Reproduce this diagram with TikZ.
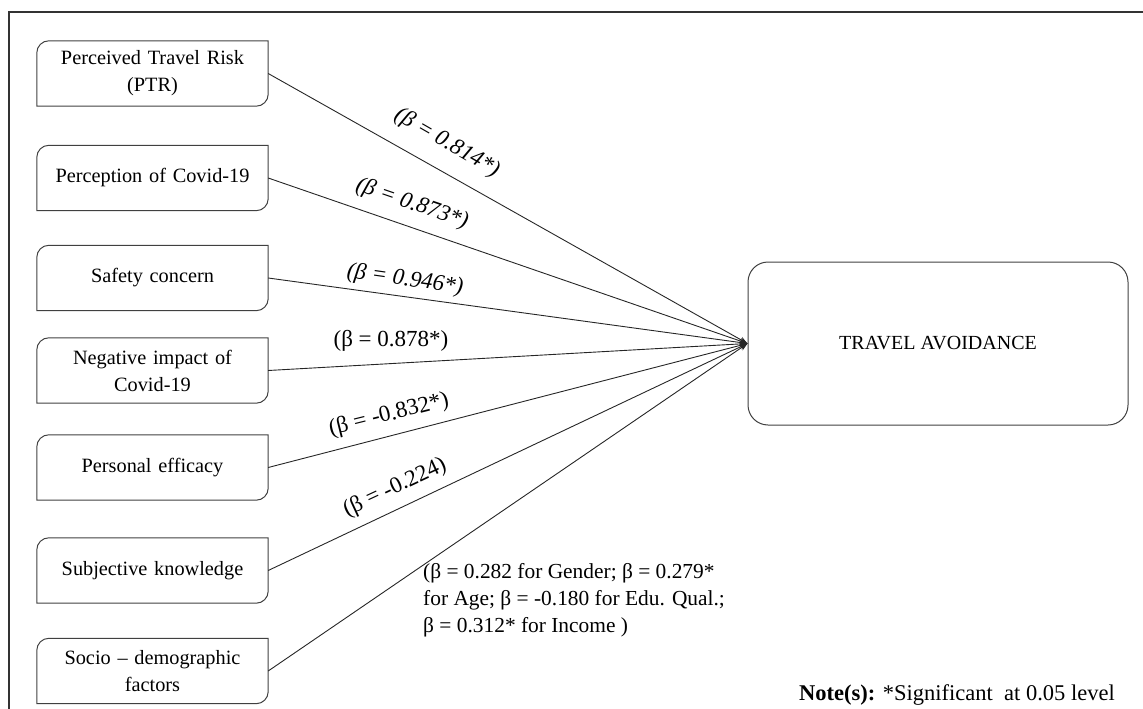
\documentclass[tikz,border=0pt]{standalone}
\usepackage{fontspec}
\setmainfont{Liberation Serif}
\usetikzlibrary{arrows.meta,calc}
\tikzset{
  src/.style={minimum width=231pt, minimum height=65pt, text width=220pt, align=center, inner sep=0pt, font=\fontsize{20.3}{27}\selectfont},
  boxline/.style={draw=black!75, line width=1pt},
  link/.style={draw=black!85, line width=0.9pt, -{Stealth[length=8pt,width=6pt]}},
  lab/.style={font=\fontsize{23}{27}\selectfont, inner sep=0pt},
}
\newcommand\dbox[1]{\draw[boxline] (#1.south west) -- ([yshift=-12pt]#1.north west) .. controls ([yshift=-5.4pt]#1.north west) and ([xshift=5.4pt]#1.north west) .. ([xshift=12pt]#1.north west) -- (#1.north east) -- ([yshift=12pt]#1.south east) .. controls ([yshift=5.4pt]#1.south east) and ([xshift=-5.4pt]#1.south east) .. ([xshift=-12pt]#1.south east) -- cycle;}
\begin{document}
\begin{tikzpicture}[x=1pt,y=-1pt]
\useasboundingbox (0,0) rectangle (1143,709);
\draw[draw=black!80, line width=1.5pt] (9,709) -- (9,12) -- (1143,12);
\node[src] (ptr) at (152.5,73.5) {Perceived Travel Risk\\(PTR)};
\node[src] (per) at (152.5,178) {Perception of Covid-19};
\node[src] (saf) at (152.5,278) {Safety concern};
\node[src] (neg) at (152.5,370.5) {Negative impact of\\Covid-19};
\node[src] (eff) at (152.5,467.5) {Personal efficacy};
\node[src] (sub) at (152.5,570.5) {Subjective knowledge};
\node[src] (soc) at (152.5,671) {Socio -- demographic\\factors};
\foreach \n in {ptr,per,saf,neg,eff,sub,soc} {\dbox{\n}}
\node[draw=black!75, line width=1pt, rounded corners=20pt, minimum width=380pt, minimum height=163pt, font=\fontsize{20}{26}\selectfont] (ta) at (938,343.5) {TRAVEL AVOIDANCE};
\foreach \n in {ptr,per,saf,neg,eff,sub,soc} {\draw[link] (\n.east) -- (ta.west);}
\node[lab, rotate=-30] (l1) at (447,143) {\itshape(β = 0.814*)};
\node[lab, rotate=-19] (l2) at (412,204) {\itshape(β = 0.873*)};
\node[lab, rotate=-8] (l3) at (405,280) {\itshape(β = 0.946*)};
\node[lab] (l4) at (391,341) {(β = 0.878*)};
\node[lab, rotate=14] (l5) at (389,415) {(β = -0.832*)};
\node[lab, rotate=25] (l6) at (395,488) {(β = -0.224)};
\node[lab, anchor=north west, align=left, font=\fontsize{21.4}{27}\selectfont] (l7) at (423,563) {(β = 0.282 for Gender; β = 0.279*\\for Age; β = -0.180 for Edu. Qual.;\\β = 0.312* for Income )};
\node[lab, anchor=base west, font=\fontsize{22.5}{26}\selectfont] (note) at (799,700) {\textbf{Note(s):} *Significant\ \ at 0.05 level};
\end{tikzpicture}
\end{document}
